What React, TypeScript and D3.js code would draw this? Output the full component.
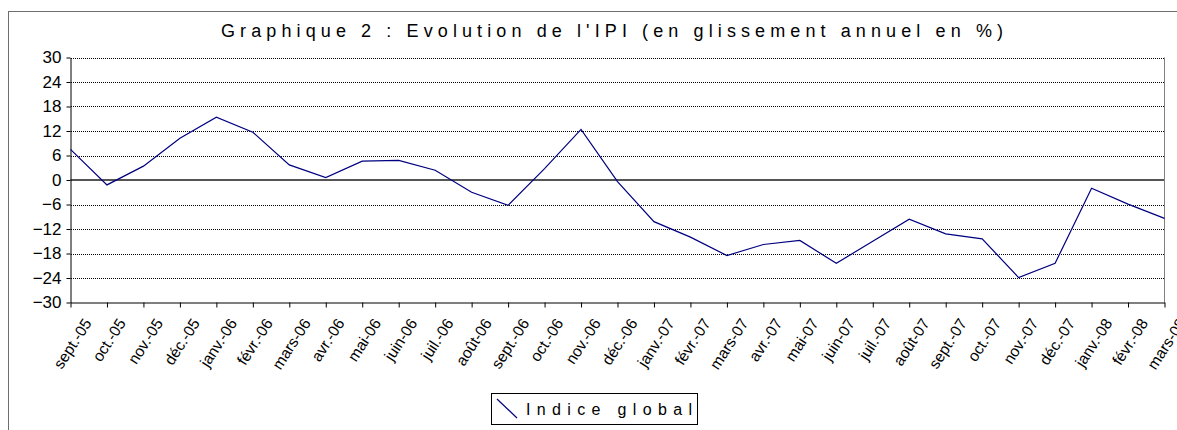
import React, { useEffect, useRef } from 'react';
import * as d3 from 'd3';

const months = [
  'sept.-05', 'oct.-05', 'nov.-05', 'déc.-05', 'janv.-06', 'févr.-06', 'mars-06',
  'avr.-06', 'mai-06', 'juin-06', 'juil.-06', 'août-06', 'sept.-06', 'oct.-06',
  'nov.-06', 'déc.-06', 'janv.-07', 'févr.-07', 'mars-07', 'avr.-07', 'mai-07',
  'juin-07', 'juil.-07', 'août-07', 'sept.-07', 'oct.-07', 'nov.-07', 'déc.-07',
  'janv.-08', 'févr.-08', 'mars-08'
];

const indiceGlobal = [
  7.5, -1.2, 3.4, 10.2, 15.4, 11.7, 3.7, 0.6, 4.6, 4.8, 2.4, -3.0, -6.2, 2.8,
  12.4, -0.4, -10.2, -14.0, -18.5, -15.8, -14.8, -20.4, -15.0, -9.6, -13.2,
  -14.4, -23.9, -20.4, -2.0, -5.9, -9.4
];

const yTicks = [30, 24, 18, 12, 6, 0, -6, -12, -18, -24, -30];

const title = "Graphique 2 : Evolution de l'IPI (en glissement annuel en %)";
const seriesName = 'Indice global';

const FONT = "'Liberation Sans', Arial, Helvetica, sans-serif";

export default function App() {
  const svgRef = useRef<SVGSVGElement>(null);

  useEffect(() => {
    if (!svgRef.current) return;
    const svg = d3.select(svgRef.current);
    svg.selectAll('*').remove();

    const width = 1177;
    const height = 430;
    const plot = { left: 70.5, right: 1164.5, top: 57.5, bottom: 302.5 };

    // outer chart frame (runs past the window on right and bottom)
    svg.append('rect')
      .attr('x', 8.5).attr('y', 11.5)
      .attr('width', width + 20).attr('height', height + 20)
      .attr('fill', 'white')
      .attr('stroke', '#6e6e6e');

    // title
    svg.append('text')
      .attr('x', 221).attr('y', 37)
      .attr('textLength', 782)
      .attr('lengthAdjust', 'spacing')
      .style('font-family', FONT)
      .style('font-size', '18px')
      .attr('fill', '#000')
      .text(title);

    const x = d3.scalePoint<string>()
      .domain(months)
      .range([plot.left, plot.right]);

    const y = d3.scaleLinear()
      .domain([-30, 30])
      .range([plot.bottom, plot.top]);

    // gridlines
    svg.append('g')
      .selectAll('line')
      .data(yTicks.filter(d => d !== 0 && d !== -30))
      .enter()
      .append('line')
      .attr('x1', plot.left).attr('x2', plot.right)
      .attr('y1', d => Math.round(y(d)) + 0.5)
      .attr('y2', d => Math.round(y(d)) + 0.5)
      .attr('stroke', '#000')
      .attr('stroke-dasharray', '1 1')
      .attr('shape-rendering', 'crispEdges');

    // zero line
    svg.append('line')
      .attr('x1', plot.left).attr('x2', plot.right)
      .attr('y1', y(0)).attr('y2', y(0))
      .attr('stroke', '#555')
      .attr('stroke-width', 2);

    // plot area right border
    svg.append('line')
      .attr('x1', plot.right).attr('x2', plot.right)
      .attr('y1', plot.top).attr('y2', plot.bottom)
      .attr('stroke', '#808080');

    // y axis
    const yAxis = svg.append('g')
      .attr('transform', `translate(${plot.left},0)`)
      .call(d3.axisLeft(y).tickValues(yTicks).tickSize(4).tickSizeOuter(0).tickFormat(d3.format('d')));
    yAxis.select('.domain').attr('stroke', '#000');
    yAxis.selectAll('.tick line').attr('stroke', '#000');
    yAxis.selectAll('text')
      .attr('x', -9)
      .style('font-family', FONT)
      .style('font-size', '17px')
      .attr('fill', '#000');

    // x axis
    const xAxis = svg.append('g')
      .attr('transform', `translate(0,${plot.bottom})`)
      .call(d3.axisBottom(x).tickSize(5).tickSizeOuter(0).tickFormat(() => ''));
    xAxis.select('.domain').attr('stroke', '#000');
    xAxis.selectAll('.tick line').attr('stroke', '#000');

    // rotated month labels, box centred on tick, top aligned
    const angle = 57;
    const rad = (angle * Math.PI) / 180;
    const labels = svg.append('g');
    months.forEach(m => {
      const t = labels.append('text')
        .attr('text-anchor', 'middle')
        .attr('dy', '0.35em')
        .style('font-family', FONT)
        .style('font-size', '15.5px')
        .attr('fill', '#000')
        .text(m);
      const len = (t.node() as SVGTextElement).getComputedTextLength();
      const h = len * Math.sin(rad) + 11 * Math.cos(rad);
      t.attr('transform', `translate(${x(m)! + 2},${317 + h / 2}) rotate(-${angle})`);
    });

    // series
    const line = d3.line<number>()
      .x((d, i) => x(months[i])!)
      .y(d => y(d));

    svg.append('path')
      .datum(indiceGlobal)
      .attr('d', line)
      .attr('fill', 'none')
      .attr('stroke', '#000080')
      .attr('stroke-width', 1.2);

    // legend
    const lg = svg.append('g');
    lg.append('rect')
      .attr('x', 491.5).attr('y', 393.5)
      .attr('width', 206).attr('height', 31)
      .attr('fill', 'white')
      .attr('stroke', '#000');
    lg.append('line')
      .attr('x1', 497).attr('y1', 399)
      .attr('x2', 517).attr('y2', 418)
      .attr('stroke', '#000080')
      .attr('stroke-width', 1.2);
    lg.append('text')
      .attr('x', 526).attr('y', 415)
      .attr('textLength', 166)
      .attr('lengthAdjust', 'spacing')
      .style('font-family', FONT)
      .style('font-size', '16px')
      .attr('fill', '#000')
      .text(seriesName);
  }, []);

  return (
    <svg
      ref={svgRef}
      width={1177}
      height={430}
      style={{ position: 'absolute', left: 0, top: 0 }}
    ></svg>
  );
}
